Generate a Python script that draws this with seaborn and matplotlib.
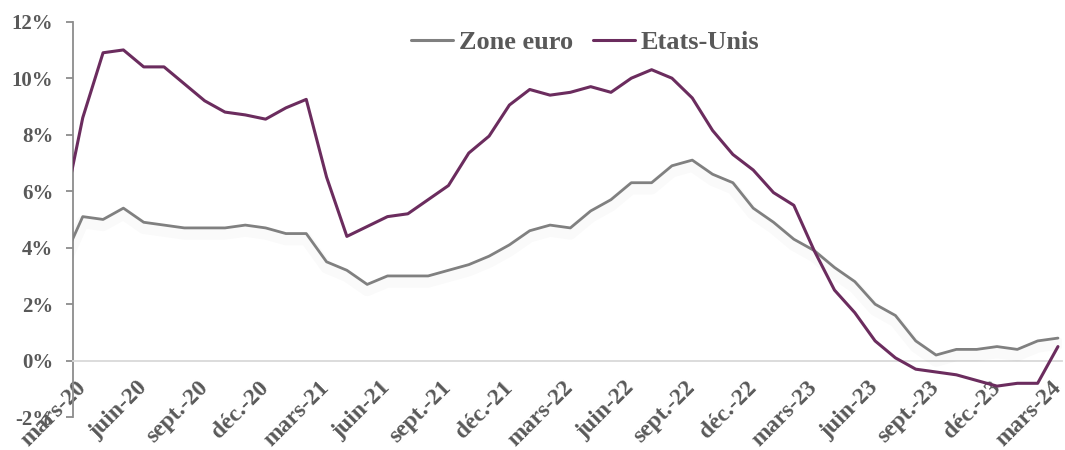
import numpy as np
import pandas as pd
import matplotlib
matplotlib.use("Agg")
import matplotlib.pyplot as plt
import matplotlib.patheffects as pe
import seaborn as sns

# monthly series, feb-20 .. mar-24 (first point sits just left of the y axis)
months = pd.date_range("2020-02-01", "2024-03-01", freq="MS")
zone_euro = [3.5, 5.1, 5.0, 5.4, 4.9, 4.8, 4.7, 4.7, 4.7, 4.8, 4.7, 4.5, 4.5,
             3.5, 3.2, 2.7, 3.0, 3.0, 3.0, 3.2, 3.4, 3.7, 4.1, 4.6, 4.8, 4.7,
             5.3, 5.7, 6.3, 6.3, 6.9, 7.1, 6.6, 6.3, 5.4, 4.9, 4.3, 3.9, 3.3,
             2.8, 2.0, 1.6, 0.7, 0.2, 0.4, 0.4, 0.5, 0.4, 0.7, 0.8]
etats_unis = [5.1, 8.6, 10.9, 11.0, 10.4, 10.4, 9.8, 9.2, 8.8, 8.7, 8.55, 8.95,
              9.25, 6.5, 4.4, 4.75, 5.1, 5.2, 5.7, 6.2, 7.35, 7.95, 9.05, 9.6,
              9.4, 9.5, 9.7, 9.5, 10.0, 10.3, 10.0, 9.3, 8.15, 7.3, 6.75, 5.95,
              5.5, 3.9, 2.5, 1.7, 0.7, 0.1, -0.3, -0.4, -0.5, -0.7, -0.9, -0.8,
              -0.8, 0.5]
tick_labels = ["mars-20", "juin-20", "sept.-20", "déc.-20",
               "mars-21", "juin-21", "sept.-21", "déc.-21",
               "mars-22", "juin-22", "sept.-22", "déc.-22",
               "mars-23", "juin-23", "sept.-23", "déc.-23", "mars-24"]
y_ticks = [-2, 0, 2, 4, 6, 8, 10, 12]

GRAY = "#808080"
PURPLE = "#6B2C5E"
TEXT = "#595959"

sns.set_style("white")
plt.rcParams["font.family"] = ["Liberation Serif", "DejaVu Serif"]
plt.rcParams["font.weight"] = "bold"

idx = np.arange(len(months))
df = pd.DataFrame({
    "t": np.concatenate([idx, idx]),
    "val": zone_euro + etats_unis,
    "serie": ["Zone euro"] * len(idx) + ["Etats-Unis"] * len(idx),
})

fig = plt.figure(figsize=(10.65, 4.5), dpi=100)
ax = fig.add_axes([0.0683, 0.0729, 0.9289, 0.8789])

sns.lineplot(data=df, x="t", y="val", hue="serie",
             palette={"Zone euro": GRAY, "Etats-Unis": PURPLE},
             linewidth=2.2, ax=ax, zorder=3)

# soft shadow under the euro line
ax.lines[0].set_path_effects([
    pe.SimpleLineShadow(offset=(0, -4), shadow_color="black", alpha=0.018, linewidth=9),
    pe.Normal(),
])
ax.lines[0].set_linewidth(2.0)

ax.set_xlim(0.507, 49.2)
ax.set_ylim(-2, 12)

# x axis crosses at 0
ax.spines["bottom"].set_position(("data", 0))
ax.spines["bottom"].set_color("#d9d9d9")
ax.spines["bottom"].set_linewidth(1.3)
ax.spines["left"].set_color("#8c8c8c")
ax.spines["left"].set_linewidth(1.3)
ax.spines["top"].set_visible(False)
ax.spines["right"].set_visible(False)

ax.set_xticks(idx[1::3])
ax.set_xticklabels(tick_labels, rotation=45, ha="right", va="center",
                   rotation_mode="anchor", fontsize=17, color=TEXT,
                   fontweight="bold")
ax.tick_params(axis="x", length=0, pad=17)

ax.set_yticks(y_ticks)
ax.set_yticklabels([f"{v}%" for v in y_ticks], fontsize=15, color=TEXT,
                   fontweight="bold")
ax.tick_params(axis="y", direction="out", length=5, width=1.3,
               color="#8c8c8c", pad=9, left=True)

ax.set_xlabel("")
ax.set_ylabel("")
ax.grid(False)

leg = ax.legend(loc="center", bbox_to_anchor=(585 / 1065, 1 - 42 / 450),
                bbox_transform=fig.transFigure, ncol=2, frameon=False,
                handlelength=1.6, handletextpad=0.2, columnspacing=0.75,
                prop={"size": 19, "weight": "bold"})
for text in leg.get_texts():
    text.set_color(TEXT)
for line in leg.get_lines():
    line.set_linewidth(2.2)
    line.set_path_effects([])

fig.savefig("out.png", dpi=100)
